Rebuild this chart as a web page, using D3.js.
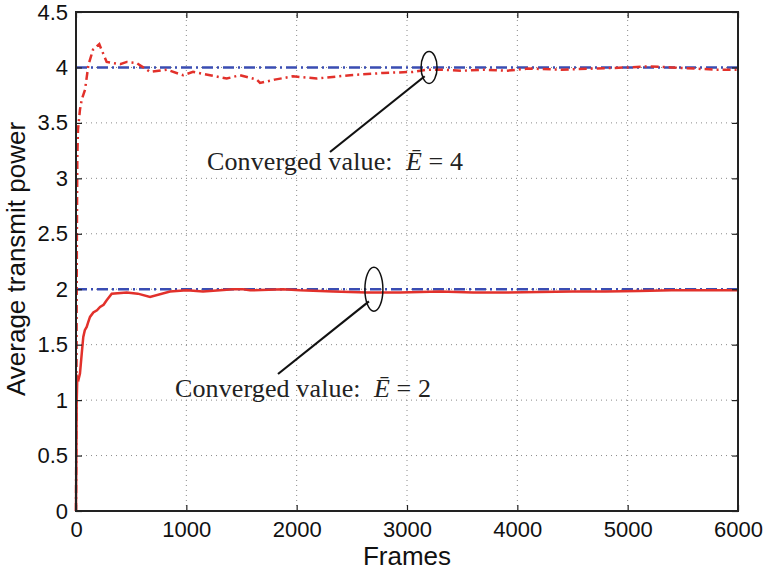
<!DOCTYPE html>
<html>
<head>
<meta charset="utf-8">
<script src="https://cdn.jsdelivr.net/npm/d3@7"></script>
<style>
  html, body { margin: 0; padding: 0; background: #fff; }
  svg { display: block; }
</style>
</head>
<body>
<svg id="chart" width="766" height="570"></svg>
<script>
// ---- data ----
const xTicks = [0, 1000, 2000, 3000, 4000, 5000, 6000];
const yTicks = [0, 0.5, 1, 1.5, 2, 2.5, 3, 3.5, 4, 4.5];
const refLevels = [2, 4];

const framesE4 = [0, 2, 5, 8, 12, 18, 36, 52, 82, 112, 154, 211, 278, 335, 400, 460, 550, 671, 822, 970, 1061, 1215, 1366, 1487, 1638, 1668, 1800, 1967, 2182, 2484, 2783, 3055, 3180, 3300, 3500, 3690, 3900, 4100, 4400, 4700, 5000, 5200, 5400, 5600, 5800, 6000];
const powerE4  = [0, 0.5, 1.5, 2.5, 3.19, 3.44, 3.62, 3.71, 3.80, 4.02, 4.16, 4.21, 4.05, 4.04, 4.03, 4.05, 4.04, 3.96, 3.98, 3.93, 3.96, 3.93, 3.90, 3.93, 3.89, 3.86, 3.89, 3.92, 3.90, 3.93, 3.95, 3.96, 3.98, 3.98, 3.97, 3.98, 3.97, 3.99, 3.98, 3.99, 4.00, 4.01, 4.00, 3.99, 3.98, 3.98];

const framesE2 = [0, 3, 6, 12, 24, 36, 52, 66, 80, 97, 110, 127, 157, 190, 218, 250, 278, 324, 460, 560, 671, 852, 1004, 1151, 1306, 1424, 1514, 1578, 1877, 2031, 2330, 2635, 2937, 3300, 3600, 3900, 4200, 4500, 4800, 5100, 5400, 5700, 6000];
const powerE2  = [0, 0.49, 0.97, 1.21, 1.19, 1.24, 1.42, 1.57, 1.63, 1.66, 1.70, 1.75, 1.79, 1.81, 1.84, 1.86, 1.90, 1.96, 1.97, 1.96, 1.93, 1.98, 1.99, 1.98, 1.99, 2.00, 2.00, 1.99, 2.00, 1.99, 1.98, 1.97, 1.97, 1.98, 1.97, 1.97, 1.975, 1.98, 1.98, 1.985, 1.99, 1.99, 1.99];

const annotations = [
  { label: "Converged value:", value: "4", target: [3200, 4.0], textAt: [1187, 3.075] },
  { label: "Converged value:", value: "2", target: [2700, 2.0], textAt: [897, 1.028] }
];

// ---- layout ----
const margin = { left: 76, right: 766 - 738, top: 12, bottom: 570 - 511 };
const W = 766, H = 570;
const svg = d3.select("#chart");

const x = d3.scaleLinear().domain([0, 6000]).range([margin.left, W - margin.right]);
const y = d3.scaleLinear().domain([0, 4.5]).range([H - margin.bottom, margin.top]);

const red = "#e2312b", blue = "#3a4db3";

// grid
const grid = svg.append("g");
grid.selectAll("line.gx").data(xTicks.slice(1, -1)).join("line")
  .attr("x1", d => x(d)).attr("x2", d => x(d))
  .attr("y1", y(0)).attr("y2", y(4.5))
  .attr("stroke", "#8a8a8a").attr("stroke-width", 1).attr("stroke-dasharray", "1,4");
grid.selectAll("line.gy").data(yTicks.slice(1, -1)).join("line")
  .attr("y1", d => y(d)).attr("y2", d => y(d))
  .attr("x1", x(0)).attr("x2", x(6000))
  .attr("stroke", "#8a8a8a").attr("stroke-width", 1).attr("stroke-dasharray", "1,4");

// reference lines
svg.append("g").selectAll("line").data(refLevels).join("line")
  .attr("x1", x(0)).attr("x2", x(6000))
  .attr("y1", d => y(d)).attr("y2", d => y(d))
  .attr("stroke", blue).attr("stroke-width", 2.5).attr("stroke-dasharray", "11,4,2,4");

// curves
const line = d3.line().x(d => x(d[0])).y(d => y(d[1]));
svg.append("path").datum(d3.zip(framesE4, powerE4)).attr("d", line)
  .attr("fill", "none").attr("stroke", red).attr("stroke-width", 2.5)
  .attr("stroke-dasharray", "8,4,2,4");
svg.append("path").datum(d3.zip(framesE2, powerE2)).attr("d", line)
  .attr("fill", "none").attr("stroke", red).attr("stroke-width", 2.5);

// axes
const tickFont = "'Liberation Sans', Arial, sans-serif";
const ax = svg.append("g").attr("transform", `translate(0,${y(0)})`)
  .call(d3.axisBottom(x).tickValues(xTicks).tickFormat(d3.format("d")).tickSizeInner(-6).tickSizeOuter(0).tickPadding(10));
const ay = svg.append("g").attr("transform", `translate(${x(0)},0)`)
  .call(d3.axisLeft(y).tickValues(yTicks).tickFormat(d => d).tickSizeInner(-6).tickSizeOuter(0).tickPadding(8));
const axTop = svg.append("g").attr("transform", `translate(0,${y(4.5)})`)
  .call(d3.axisTop(x).tickValues(xTicks).tickFormat("").tickSizeInner(-6).tickSizeOuter(0));
const ayRight = svg.append("g").attr("transform", `translate(${x(6000)},0)`)
  .call(d3.axisRight(y).tickValues(yTicks).tickFormat("").tickSizeInner(-6).tickSizeOuter(0));
[ax, ay, axTop, ayRight].forEach(g => {
  g.select(".domain").remove();
  g.selectAll(".tick line").attr("stroke", "#222").attr("stroke-width", 1.2);
  g.selectAll("text").attr("font-family", tickFont).attr("font-size", 22).attr("fill", "#111");
});
ax.selectAll("text").attr("dy", "0.71em");

// box
svg.append("rect").attr("x", x(0)).attr("y", y(4.5))
  .attr("width", x(6000) - x(0)).attr("height", y(0) - y(4.5))
  .attr("fill", "none").attr("stroke", "#222").attr("stroke-width", 2);

// axis titles
svg.append("text").attr("x", (x(0) + x(6000)) / 2).attr("y", 565)
  .attr("text-anchor", "middle").attr("font-family", tickFont).attr("font-size", 26).attr("fill", "#111")
  .text("Frames");
svg.append("text").attr("transform", `translate(25,${259}) rotate(-90)`)
  .attr("text-anchor", "middle").attr("font-family", tickFont).attr("font-size", 26).attr("fill", "#111")
  .text("Average transmit power");

// annotations
const serif = "'Liberation Serif', 'DejaVu Serif', serif";
const annStyle = [
  { rx: 8, ry: 16, lx1: 330, ly1: 152 },
  { rx: 9, ry: 22, lx1: 278, ly1: 374 }
];
annotations.forEach((a, i) => {
  const o = annStyle[i];
  const cx = x(a.target[0]), cy = y(a.target[1]);
  svg.append("ellipse").attr("cx", cx).attr("cy", cy).attr("rx", o.rx).attr("ry", o.ry)
    .attr("fill", "none").attr("stroke", "#111").attr("stroke-width", 1.5);
  svg.append("line").attr("x1", o.lx1).attr("y1", o.ly1).attr("x2", cx - o.rx * 0.55).attr("y2", cy + o.ry * 0.55)
    .attr("stroke", "#111").attr("stroke-width", 2.2);
  const t = svg.append("text").attr("x", x(a.textAt[0])).attr("y", y(a.textAt[1]))
    .attr("font-family", serif).attr("font-size", 26).attr("fill", "#222")
    .attr("textLength", 256).attr("lengthAdjust", "spacing");
  t.append("tspan").text(a.label + "\u00a0\u00a0");
  t.append("tspan").attr("font-style", "italic").text("\u0112");
  t.append("tspan").text("\u00a0=\u00a0" + a.value);
});
</script>
</body>
</html>
